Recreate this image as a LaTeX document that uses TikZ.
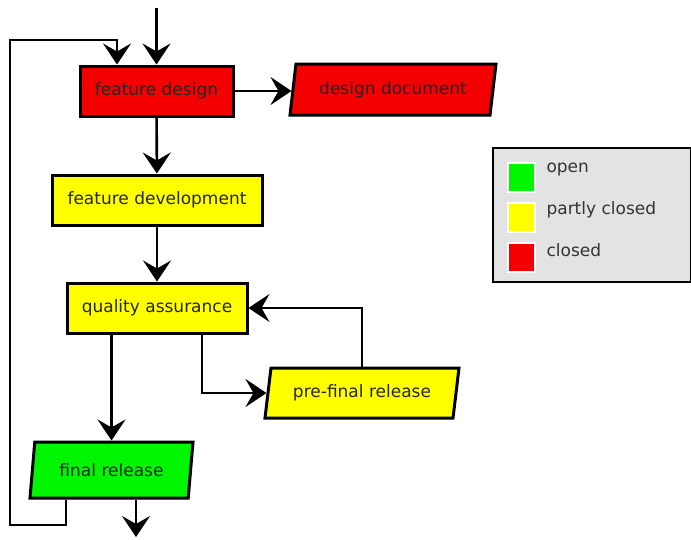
\documentclass[tikz,border=0pt]{standalone}
\usepackage{fontspec}
\setmainfont{DejaVu Sans}
\usetikzlibrary{arrows.meta,shapes.geometric}

\definecolor{closedred}{RGB}{245,0,0}
\definecolor{partlyyellow}{RGB}{255,255,0}
\definecolor{opengreen}{RGB}{0,245,0}
\definecolor{legendgray}{RGB}{227,227,227}

\begin{document}
\begin{tikzpicture}[x=1pt,y=-1pt,
  flow/.style={-{Stealth[length=21pt,width=28pt,inset=8pt]},line width=2.6pt},
  task node/.style={rectangle,draw,line width=3pt,inner sep=0pt,text=black!85,
    font=\fontsize{17}{20}\selectfont},
  data node/.style={trapezium,trapezium left angle=70,trapezium right angle=110,
    trapezium stretches body=true,draw,line width=3pt,inner sep=0pt,text=black!85,
    font=\fontsize{17}{20}\selectfont},
  key box/.style={rectangle,draw=white,line width=2pt,minimum width=27pt,minimum height=29pt},
  key text/.style={anchor=west,text=black!80,font=\fontsize{17}{20}\selectfont}]

  \useasboundingbox (0,0) rectangle (691,539);

  \node[task node, fill=closedred, minimum width=153pt, minimum height=50pt] (fdesign) at (156.5,91) {feature design};
  \node[data node, fill=closedred, minimum width=206pt, minimum height=51pt] (design) at (393,89.5) {design document};
  \node[task node, fill=partlyyellow, minimum width=210pt, minimum height=50pt] (fdev) at (157,200) {feature development};
  \node[task node, fill=partlyyellow, minimum width=180pt, minimum height=50pt] (qa) at (157,308) {quality assurance};
  \node[data node, fill=partlyyellow, minimum width=194pt, minimum height=50pt] (prefinal) at (362,393) {pre-final release};
  \node[data node, fill=opengreen, minimum width=163pt, minimum height=56pt] (final) at (111.5,470) {final release};

  % legend
  \node[draw, line width=2.6pt, fill=legendgray, minimum width=198pt, minimum height=134pt] (legend) at (592,215) {};
  \node[key box, fill=opengreen] (openkey) at (521.5,177) {};
  \node[key box, fill=partlyyellow] (partlykey) at (521.5,217) {};
  \node[key box, fill=closedred] (closedkey) at (521.5,257) {};
  \node[key text] (opentext) at (543,170) {open};
  \node[key text] (partlytext) at (543,210) {partly closed};
  \node[key text] (closedtext) at (543,250) {closed};

  \coordinate (in) at (156.5,8);
  \coordinate (out) at (136,537);
  \coordinate (loopdown) at (66,525);
  \coordinate (loopup) at (10,40);

  \draw[flow] (in) -- (fdesign);
  \draw[flow] (fdesign.east) -- (fdesign.east -| design.west);
  \draw[flow] (fdesign) -- (fdev);
  \draw[flow] (fdev) -- (qa);
  \draw[flow] (qa.south -| final) -- (final);
  \draw[flow] ([xshift=45pt]qa.south) |- (prefinal);
  \draw[flow] (prefinal) |- (qa);
  \draw[flow] (final.south -| out) -- (out);
  \draw[flow] (final.south -| loopdown) -- (loopdown) -| (loopup) -| ([xshift=-39.5pt]fdesign.north);
\end{tikzpicture}
\end{document}
